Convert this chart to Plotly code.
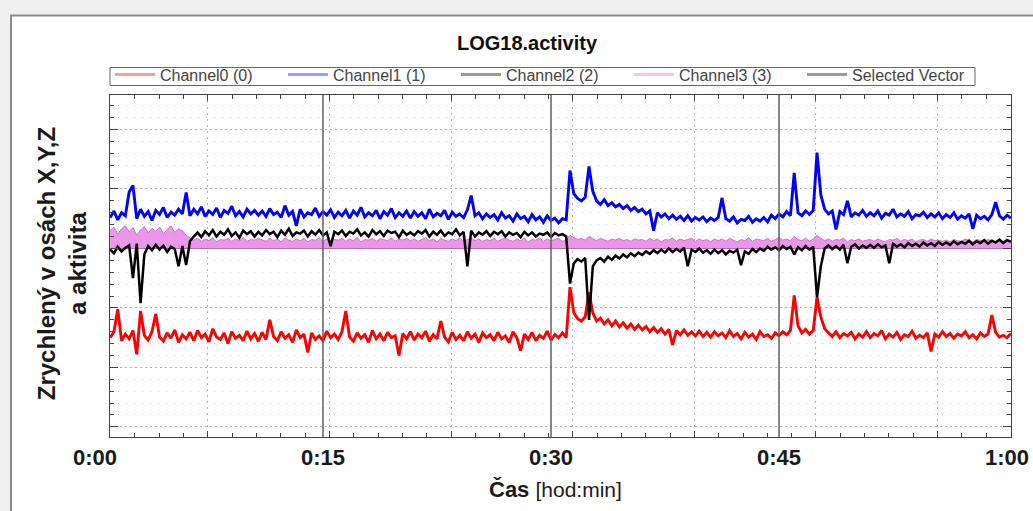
import plotly.graph_objects as go

# ---------------- data ----------------
# time axis: samples every 0.25 min starting at 1.0 min
T_START = 1.0
T_STEP = 0.25

# Channel0 (red)
ch0 = [
    -1.50, -1.40, -1.02, -1.55, -1.44, -1.52, -1.38, -1.78, -1.05, -1.46, -1.54, -1.40, -1.10, -1.49, -1.56, -1.42, -1.51, -1.37, -1.58, -1.45,
    -1.52, -1.41, -1.55, -1.38, -1.50, -1.44, -1.57, -1.35, -1.49, -1.53, -1.42, -1.60, -1.40, -1.51, -1.46, -1.55, -1.39, -1.52, -1.43, -1.56,
    -1.41, -1.53, -1.20, -1.48, -1.55, -1.40, -1.51, -1.45, -1.58, -1.37, -1.50, -1.44, -1.75, -1.42, -1.53, -1.47, -1.55, -1.39, -1.50, -1.44,
    -1.53, -1.40, -1.05, -1.49, -1.56, -1.42, -1.51, -1.45, -1.58, -1.38, -1.52, -1.44, -1.55, -1.41, -1.50, -1.47, -1.80, -1.43, -1.52, -1.40,
    -1.54, -1.44, -1.50, -1.39, -1.56, -1.45, -1.52, -1.22, -1.49, -1.57, -1.41, -1.53, -1.46, -1.55, -1.40, -1.51, -1.44, -1.58, -1.42, -1.50,
    -1.45, -1.55, -1.41, -1.52, -1.47, -1.58, -1.40, -1.50, -1.72, -1.44, -1.53, -1.41, -1.55, -1.46, -1.51, -1.39, -1.54, -1.45, -1.50, -1.42,
    -1.50, -0.65, -1.08, -1.18, -1.22, -1.15, -0.74, -1.08, -1.22, -1.17, -1.27, -1.20, -1.30, -1.22, -1.32, -1.25, -1.34, -1.27, -1.36, -1.29,
    -1.37, -1.31, -1.40, -1.33, -1.41, -1.35, -1.44, -1.36, -1.62, -1.38, -1.45, -1.37, -1.46, -1.40, -1.47, -1.39, -1.48, -1.41, -1.49, -1.40,
    -1.47, -1.42, -1.50, -1.38, -1.48, -1.43, -1.52, -1.41, -1.49, -1.44, -1.53, -1.40, -1.48, -1.45, -1.51, -1.42, -1.47, -1.40, -1.45, -1.38,
    -0.79, -1.30, -1.42, -1.36, -1.44, -1.38, -0.82, -1.15, -1.35, -1.42, -1.48, -1.40, -1.50, -1.43, -1.47, -1.41, -1.52, -1.44, -1.49, -1.40,
    -1.50, -1.43, -1.47, -1.38, -1.52, -1.44, -1.49, -1.41, -1.53, -1.45, -1.48, -1.39, -1.51, -1.46, -1.50, -1.42, -1.73, -1.44, -1.49, -1.40,
    -1.48, -1.43, -1.51, -1.44, -1.47, -1.40, -1.50, -1.45, -1.52, -1.42, -1.48, -1.44, -1.12, -1.41, -1.49, -1.46, -1.50, -1.43,
]

# Channel1 (blue)
ch1 = [
    0.52, 0.63, 0.48, 0.60, 0.55, 0.95, 1.06, 0.50, 0.66, 0.54, 0.62, 0.47, 0.64, 0.57, 0.69, 0.52, 0.61, 0.56, 0.66, 0.58,
    0.94, 0.55, 0.66, 0.58, 0.70, 0.54, 0.63, 0.57, 0.68, 0.52, 0.64, 0.59, 0.71, 0.55, 0.62, 0.53, 0.66, 0.58, 0.64, 0.56,
    0.63, 0.54, 0.67, 0.57, 0.61, 0.52, 0.72, 0.56, 0.62, 0.38, 0.66, 0.53, 0.60, 0.57, 0.68, 0.54, 0.62, 0.56, 0.65, 0.52,
    0.61, 0.55, 0.64, 0.51, 0.63, 0.56, 0.69, 0.53, 0.60, 0.55, 0.64, 0.50, 0.62, 0.56, 0.67, 0.52, 0.60, 0.54, 0.63, 0.51,
    0.62, 0.54, 0.60, 0.50, 0.66, 0.53, 0.59, 0.55, 0.64, 0.49, 0.61, 0.54, 0.58, 0.52, 0.65, 0.89, 0.55, 0.60, 0.50, 0.58,
    0.52, 0.57, 0.48, 0.60, 0.51, 0.55, 0.46, 0.58, 0.50, 0.54, 0.45, 0.57, 0.48, 0.53, 0.44, 0.55, 0.47, 0.51, 0.43, 0.50,
    0.48, 1.31, 0.92, 0.84, 0.80, 0.86, 1.38, 0.96, 0.80, 0.74, 0.82, 0.72, 0.77, 0.70, 0.74, 0.67, 0.72, 0.64, 0.69, 0.62,
    0.66, 0.58, 0.63, 0.30, 0.60, 0.53, 0.58, 0.50, 0.56, 0.49, 0.54, 0.47, 0.55, 0.46, 0.52, 0.48, 0.53, 0.45, 0.51, 0.47,
    0.52, 0.85, 0.50, 0.46, 0.53, 0.43, 0.49, 0.47, 0.54, 0.44, 0.50, 0.46, 0.52, 0.45, 0.56, 0.50, 0.58, 0.53, 0.62, 0.55,
    1.27, 0.60, 0.55, 0.63, 0.57, 0.64, 1.61, 0.90, 0.66, 0.58, 0.63, 0.32, 0.62, 0.57, 0.80, 0.53, 0.60, 0.56, 0.64, 0.54,
    0.60, 0.55, 0.63, 0.51, 0.59, 0.56, 0.66, 0.53, 0.58, 0.54, 0.62, 0.50, 0.57, 0.55, 0.61, 0.52, 0.58, 0.53, 0.60, 0.50,
    0.57, 0.52, 0.60, 0.49, 0.55, 0.51, 0.58, 0.33, 0.56, 0.50, 0.54, 0.48, 0.57, 0.78, 0.55, 0.49, 0.56, 0.51,
]

# Channel2 (black)
ch2 = [
    -0.02, -0.08, 0.03, -0.05, 0.01, 0.05, -0.50, 0.08, -0.92, -0.10, 0.04, -0.03, 0.06, -0.02, 0.05, -0.06, 0.03, -0.01, -0.30, 0.04,
    -0.28, 0.12, 0.20, 0.27, 0.19, 0.29, 0.22, 0.31, 0.20, 0.28, 0.23, 0.32, 0.21, 0.27, 0.18, 0.30, 0.24, 0.29, 0.20, 0.28,
    0.22, 0.31, 0.24, 0.28, 0.19, 0.30, 0.23, 0.33, 0.21, 0.27, 0.25, 0.30, 0.20, 0.29, 0.23, 0.31, 0.22, 0.27, 0.04, 0.28,
    0.24, 0.30, 0.21, 0.28, 0.25, 0.32, 0.22, 0.27, 0.20, 0.31, 0.24, 0.29, 0.21, 0.30, 0.26, 0.28, 0.19, 0.30, 0.23, 0.27,
    0.22, 0.29, 0.25, 0.31, 0.20, 0.28, 0.23, 0.30, 0.21, 0.27, 0.24, 0.32, 0.22, 0.28, -0.30, 0.30, 0.20, 0.27, 0.23, 0.29,
    0.21, 0.28, 0.24, 0.29, 0.20, 0.27, 0.23, 0.26, 0.19, 0.28, 0.22, 0.27, 0.20, 0.25, 0.23, 0.27, 0.19, 0.26, 0.22, 0.24,
    0.20, -0.59, -0.25, -0.18, -0.22, -0.16, -1.20, -0.30, -0.20, -0.16, -0.22, -0.14, -0.19, -0.12, -0.17, -0.10, -0.15, -0.08, -0.13, -0.07,
    -0.11, -0.05, -0.09, -0.03, -0.08, -0.02, -0.07, 0.00, -0.06, -0.01, -0.05, 0.01, -0.30, -0.02, -0.06, 0.00, -0.07, -0.03, -0.09, -0.02,
    -0.08, -0.03, -0.10, -0.04, -0.07, -0.02, -0.28, -0.05, -0.09, -0.01, -0.06, 0.00, -0.04, 0.03, -0.02, 0.02, -0.03, 0.04, -0.01, 0.03,
    -0.10, 0.02, -0.03, 0.04, -0.02, 0.03, -0.82, -0.30, 0.00, 0.05, -0.01, 0.04, -0.02, 0.06, -0.25, 0.03, 0.07, 0.00, 0.05, 0.01,
    0.06, 0.01, 0.07, 0.02, 0.05, -0.25, 0.08, 0.03, 0.07, 0.02, 0.09, 0.04, 0.08, 0.03, 0.10, 0.05, 0.09, 0.04, 0.11, 0.06,
    0.10, 0.06, 0.12, 0.07, 0.11, 0.08, 0.13, 0.07, 0.12, 0.09, 0.14, 0.08, 0.13, 0.10, 0.15, 0.09, 0.14, 0.11,
]

# Channel3 (activity, violet)
ch3 = [
    0.30, 0.36, 0.24, 0.33, 0.38, 0.28, 0.35, 0.22, 0.31, 0.37, 0.26, 0.34, 0.29, 0.36, 0.25, 0.32, 0.38, 0.27, 0.33, 0.30,
    0.22, 0.18, 0.14, 0.17, 0.12, 0.16, 0.13, 0.18, 0.11, 0.15, 0.14, 0.17, 0.12, 0.16, 0.13, 0.18, 0.12, 0.15, 0.14, 0.17,
    0.15, 0.12, 0.17, 0.13, 0.16, 0.11, 0.18, 0.14, 0.12, 0.16, 0.13, 0.17, 0.11, 0.15, 0.14, 0.18, 0.12, 0.16, 0.13, 0.15,
    0.14, 0.17, 0.12, 0.16, 0.13, 0.18, 0.11, 0.15, 0.14, 0.17, 0.12, 0.16, 0.15, 0.13, 0.18, 0.12, 0.16, 0.14, 0.17, 0.13,
    0.16, 0.12, 0.15, 0.18, 0.13, 0.16, 0.11, 0.17, 0.14, 0.12, 0.16, 0.13, 0.18, 0.12, 0.15, 0.17, 0.13, 0.16, 0.12, 0.15,
    0.13, 0.17, 0.12, 0.15, 0.18, 0.14, 0.12, 0.16, 0.13, 0.17, 0.11, 0.15, 0.14, 0.18, 0.12, 0.16, 0.13, 0.15, 0.17, 0.12,
    0.14, 0.22, 0.18, 0.15, 0.17, 0.14, 0.20, 0.16, 0.13, 0.17, 0.15, 0.12, 0.16, 0.14, 0.17, 0.13, 0.15, 0.12, 0.16, 0.14,
    0.15, 0.12, 0.17, 0.13, 0.16, 0.11, 0.15, 0.14, 0.18, 0.12, 0.16, 0.13, 0.15, 0.17, 0.12, 0.16, 0.13, 0.15, 0.11, 0.16,
    0.13, 0.16, 0.12, 0.17, 0.14, 0.11, 0.15, 0.13, 0.18, 0.12, 0.16, 0.14, 0.13, 0.17, 0.12, 0.15, 0.19, 0.14, 0.16, 0.13,
    0.20, 0.15, 0.13, 0.17, 0.12, 0.16, 0.22, 0.17, 0.13, 0.16, 0.12, 0.15, 0.14, 0.17, 0.11, 0.15, 0.13, 0.16, 0.12, 0.14,
    0.15, 0.12, 0.16, 0.13, 0.11, 0.15, 0.14, 0.17, 0.12, 0.15, 0.13, 0.16, 0.11, 0.14, 0.15, 0.12, 0.16, 0.13, 0.14, 0.12,
    0.14, 0.11, 0.15, 0.13, 0.12, 0.16, 0.13, 0.11, 0.15, 0.14, 0.12, 0.15, 0.13, 0.11, 0.14, 0.12, 0.15, 0.13,
]

assert len(ch0) == len(ch1) == len(ch2) == len(ch3), (len(ch0), len(ch1), len(ch2), len(ch3))
t_min = [T_START + T_STEP * i for i in range(len(ch0))]

legend_names = ["Channel0 (0)", "Channel1 (1)", "Channel2 (2)", "Channel3 (3)", "Selected Vector"]
legend_colors = ["#ff9c9c", "#9c9cff", "#9a9a9a", "#f3c3f3", "#9a9a9a"]

tick_minutes = [0, 15, 30, 45, 60]
tick_labels = ["0:00", "0:15", "0:30", "0:45", "1:00"]
major_lines = [15, 30, 45]

X_RANGE = [0.99, 60.26]
Y_RANGE = [-3.17, 2.58]

FONT = "Liberation Sans, Arial, sans-serif"

# ---------------- figure ----------------
fig = go.Figure()

fig.add_trace(go.Scatter(x=t_min, y=ch3, mode="lines", fill="tozeroy",
                         line=dict(color="#d070d0", width=1),
                         fillcolor="rgba(232,140,232,0.9)", showlegend=False))
fig.add_trace(go.Scatter(x=t_min, y=ch0, mode="lines",
                         line=dict(color="#ff0000", width=2.9), showlegend=False))
fig.add_trace(go.Scatter(x=t_min, y=ch1, mode="lines",
                         line=dict(color="#0000ff", width=2.9), showlegend=False))
fig.add_trace(go.Scatter(x=t_min, y=ch2, mode="lines",
                         line=dict(color="#000000", width=2.5), showlegend=False))

for name, col in zip(legend_names, legend_colors):
    fig.add_trace(go.Scatter(x=[None], y=[None], mode="lines", name=name,
                             line=dict(color=col, width=3), showlegend=True))

# plot-area geometry in page pixels
PL, PR, PT, PB = 110, 1011, 94.5, 437
PW, PH = PR - PL, PB - PT


def px(xp):
    return (xp - PL) / PW


def py(yp):
    return (PB - yp) / PH


def xdata_to_paper(m):
    return (m - X_RANGE[0]) / (X_RANGE[1] - X_RANGE[0])


shapes = [
    dict(type="rect", xref="paper", yref="paper", x0=px(11), x1=px(1045), y0=py(15), y1=py(530),
         fillcolor="white", line=dict(color="#8c8c8c", width=2), layer="below"),
    # legend frame
    dict(type="rect", xref="paper", yref="paper", x0=px(110), x1=px(975), y0=py(85), y1=py(67),
         fillcolor="white", line=dict(color="#666", width=1), layer="below"),
]
for m in major_lines:
    shapes.append(dict(type="line", xref="x", yref="paper", x0=m, x1=m, y0=0, y1=1,
                       line=dict(color="#606060", width=1.5), layer="above"))

annotations = []
for m, lab in zip(tick_minutes, tick_labels):
    annotations.append(dict(x=xdata_to_paper(m), xref="paper", y=py(458), yref="paper",
                            text=f"<b>{lab}</b>",
                            showarrow=False, xanchor="center", yanchor="middle",
                            font=dict(family=FONT, size=22, color="#1a1a1a")))
annotations.append(dict(x=px(555), xref="paper", y=py(490), yref="paper",
                        text="<b>Čas</b> <span style='font-size:21px'>[hod:min]</span>",
                        showarrow=False, xanchor="center", yanchor="middle",
                        font=dict(family=FONT, size=22, color="#1a1a1a")))
annotations.append(dict(x=px(62), xref="paper", y=py(264), yref="paper",
                        text="<b>Zrychlený v osách X,Y,Z<br>a aktivita</b>", textangle=-90,
                        showarrow=False, xanchor="center", yanchor="middle", align="center",
                        font=dict(family=FONT, size=24, color="#1a1a1a")))

fig.update_layout(
    width=1033, height=511, autosize=False,
    margin=dict(l=PL, r=1033 - PR, t=PT, b=511 - PB, pad=0),
    paper_bgcolor="#f0f0f0", plot_bgcolor="white",
    font=dict(family=FONT, color="#222"),
    title=dict(text="<b>LOG18.activity</b>", x=527 / 1033, xref="container", xanchor="center",
               y=1 - 43 / 511, yref="container", yanchor="middle",
               font=dict(family=FONT, size=20, color="#111")),
    legend=dict(orientation="h", x=0, xanchor="left", y=py(57), yanchor="top",
                bgcolor="rgba(0,0,0,0)", borderwidth=0,
                font=dict(family=FONT, size=16, color="#444"),
                entrywidth=118, entrywidthmode="pixels", itemwidth=40),
    shapes=shapes, annotations=annotations,
)

fig.update_xaxes(range=X_RANGE, showline=True, linecolor="#444", linewidth=1, mirror="ticks",
                 ticks="inside", ticklen=6, tickcolor="#444", tick0=7.43, dtick=8,
                 showticklabels=False, showgrid=True, gridcolor="#b4b4b4", griddash="2px,4px",
                 gridwidth=1, zeroline=False,
                 minor=dict(tick0=7.43, dtick=1.6, ticks="inside", ticklen=4, tickcolor="#444",
                            showgrid=False))
fig.update_yaxes(range=Y_RANGE, showline=True, linecolor="#444", linewidth=1, mirror="ticks",
                 ticks="inside", ticklen=8, tickcolor="#444", tick0=0, dtick=1,
                 showticklabels=False, showgrid=True, gridcolor="#b0b0b0", griddash="2px,3px",
                 gridwidth=1, zeroline=True, zerolinecolor="#8a5a8a", zerolinewidth=1,
                 minor=dict(tick0=0, dtick=0.2, ticks="inside", ticklen=4, tickcolor="#444",
                            showgrid=True, gridcolor="#cfcfcf", griddash="1px,7px", gridwidth=1))

fig.write_html("out.html")
